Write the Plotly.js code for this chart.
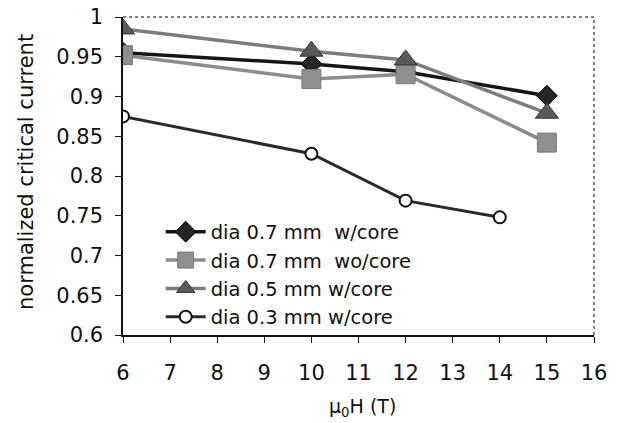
<!DOCTYPE html>
<html><head><meta charset="utf-8">
<script src="https://cdn.plot.ly/plotly-3.0.1.min.js"></script>
<style>body{margin:0;background:#fff}#c{width:640px;height:423px}</style>
</head><body><div id="c"></div>
<script>
const fieldA = [6, 10, 12, 15];
const fieldB = [6, 10, 12, 14];
const d07core = [0.955, 0.941, 0.931, 0.901];
const d07nocore = [0.952, 0.922, 0.928, 0.842];
const d05core = [0.985, 0.957, 0.946, 0.879];
const d03core = [0.875, 0.828, 0.769, 0.748];
const names = ['dia 0.7 mm\u00a0 w/core', 'dia 0.7 mm\u00a0 wo/core', 'dia 0.5 mm w/core', 'dia 0.3 mm w/core'];
const xTicks = [6,7,8,9,10,11,12,13,14,15,16];
const yTicks = [0.6,0.65,0.7,0.75,0.8,0.85,0.9,0.95,1];
const yTickText = ['0.6','0.65','0.7','0.75','0.8','0.85','0.9','0.95','1'];

const traces = [
  {x: fieldA, y: d07core, name: names[0], mode: 'lines+markers',
   line: {color: '#151515', width: 3.5}, marker: {symbol: 'diamond', size: 16, color: '#252525', line:{color:'#000',width:1}}},
  {x: fieldA, y: d07nocore, name: names[1], mode: 'lines+markers',
   line: {color: '#8c8c8c', width: 3.5}, marker: {symbol: 'square', size: 19, color: '#8f8f8f', line:{color:'#7a7a7a',width:1}}},
  {x: fieldA, y: d05core, name: names[2], mode: 'lines+markers',
   line: {color: '#7c7c7c', width: 3.5}, marker: {symbol: 'triangle-up', size: 20, color: '#5a5a5a', line:{color:'#333',width:1}}},
  {x: fieldB, y: d03core, name: names[3], mode: 'lines+markers',
   line: {color: '#2a2a2a', width: 3}, marker: {symbol: 'circle', size: 12, color: '#fff', line:{color:'#111',width:2}}}
];

const FONT = 'DejaVu Sans, Liberation Sans, sans-serif';
const layout = {
  width: 640, height: 423,
  margin: {l: 123, r: 46, t: 17, b: 88},
  paper_bgcolor: '#fff', plot_bgcolor: '#fff',
  font: {family: FONT, color: '#111'},
  showlegend: true,
  legend: {x: 0.08, y: 0.385, xanchor: 'left', yanchor: 'top', bgcolor: 'rgba(0,0,0,0)',
           font: {size: 19.5, color: '#111', family: FONT}, itemwidth: 40},
  xaxis: {range: [6, 16], tickvals: xTicks, ticktext: xTicks.map(String),
          showgrid: false, zeroline: false, showline: true, linecolor: '#111', linewidth: 1.5,
          ticks: 'outside', ticklen: 6, tickcolor: '#111', tickfont: {size: 21}, ticklabelstandoff: 12},
  yaxis: {range: [0.6, 1], tickvals: yTicks, ticktext: yTickText,
          showgrid: false, zeroline: false, showline: true, linecolor: '#111', linewidth: 1.5,
          ticks: 'outside', ticklen: 6, tickcolor: '#111', tickfont: {size: 21}, ticklabelstandoff: 8},
  annotations: [
    {text: 'normalized critical current', xref: 'paper', yref: 'paper', x: (26-123)/471, y: (335-172)/318,
     xanchor: 'center', yanchor: 'middle', textangle: -90, showarrow: false, font: {size: 21, family: FONT, color: '#111'}},
    {text: 'μ<sub>0</sub>H (T)', xref: 'paper', yref: 'paper', x: (362-123)/471, y: -(407-335)/318,
     xanchor: 'center', yanchor: 'middle', showarrow: false, font: {size: 19, family: FONT, color: '#111'}}
  ],
  shapes: [
    {type: 'line', xref: 'paper', yref: 'paper', x0: 0, x1: 1, y0: 1, y1: 1, line: {color: '#555', width: 1.5, dash: 'dot'}},
    {type: 'line', xref: 'paper', yref: 'paper', x0: 1, x1: 1, y0: 0, y1: 1, line: {color: '#555', width: 1.5, dash: 'dot'}}
  ]
};
Plotly.newPlot('c', traces, layout, {displayModeBar: false});
</script></body></html>
